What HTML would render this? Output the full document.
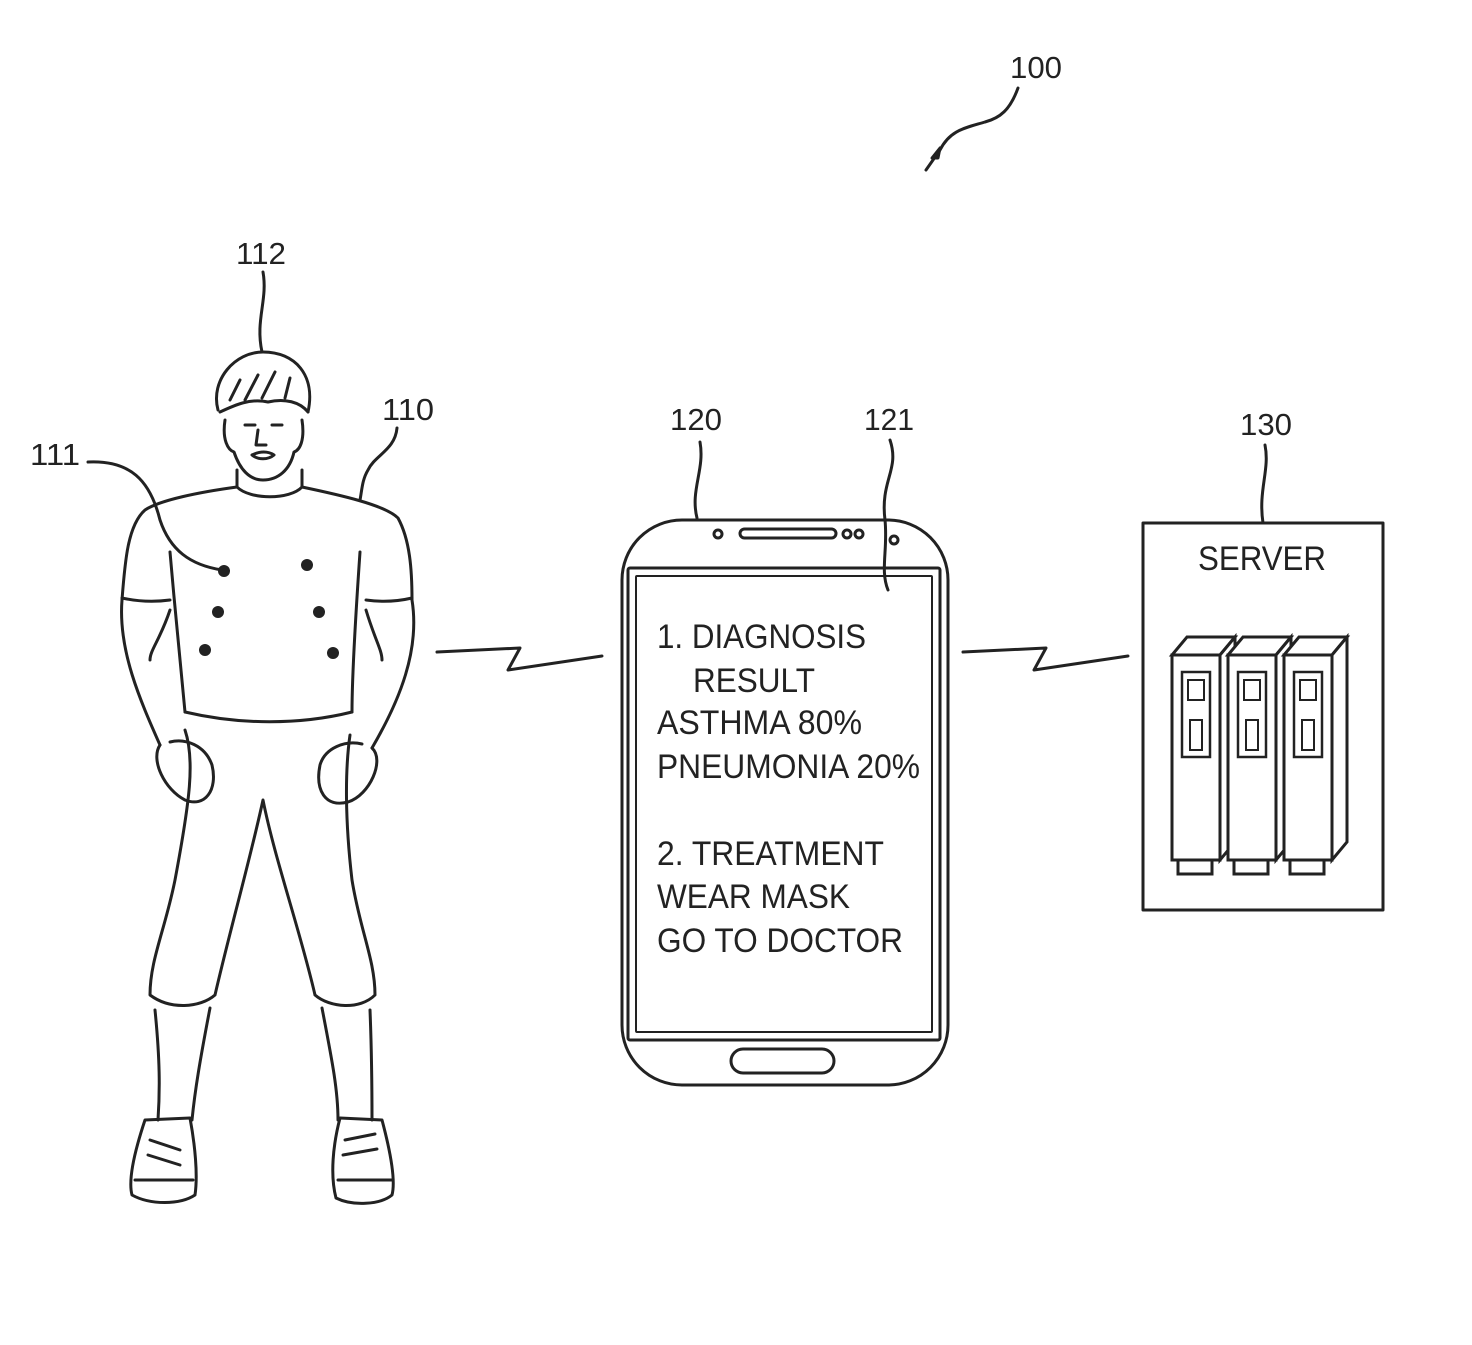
<!DOCTYPE html>
<html><head><meta charset="utf-8"><style>
html,body{margin:0;padding:0;background:#fff;}
svg{display:block;}
text{font-family:"Liberation Sans",sans-serif;fill:#222;}
</style></head><body>
<svg width="1472" height="1345" viewBox="0 0 1472 1345" xmlns="http://www.w3.org/2000/svg">
<g fill="none" stroke="#222" stroke-width="3" stroke-linecap="round" stroke-linejoin="round">
<path d="M1018 88 C1010 110 1000 118 985 122 C965 128 950 130 940 150 L926 170"/>
<path d="M932 158 l8 -10 l-2 10 z" fill="#222"/>
<path d="M263 272 C268 300 255 320 262 352"/>
<path d="M397 428 C395 450 375 455 368 470 C362 480 362 490 360 500"/>
<path d="M88 462 C130 460 150 480 160 520 C170 550 190 565 222 570"/>
<path d="M218 410 C210 380 235 352 263 352 C295 352 316 375 308 412"/>
<path d="M220 412 C235 405 250 398 268 402 C285 398 300 402 308 412"/>
<path d="M230 400 L240 380 M245 400 L258 375 M262 398 L275 372 M285 398 L290 378"/>
<path d="M225 420 C222 440 228 450 234 452 C240 470 250 480 263 480 C278 480 290 470 294 452 C300 450 305 440 302 420"/>
<path d="M245 425 h10 M272 425 h10 M258 430 l-2 15 h10 M252 455 c8 -4 16 -4 22 0 c-6 5 -16 5 -22 0"/>
<path d="M237 470 L237 487 C250 500 290 500 302 487 L302 470"/>
<path d="M237 487 C200 492 160 500 145 510 C128 525 125 560 122 600"/>
<path d="M302 487 C340 495 385 505 398 518 C410 540 412 570 412 600"/>
<path d="M122 598 C140 602 155 602 170 600 M412 598 C395 602 380 602 366 600"/>
<path d="M170 552 C175 610 182 680 185 712 M360 552 C356 610 352 680 352 712"/>
<path d="M185 712 C240 725 300 725 352 712"/>
<path d="M122 600 C118 650 140 700 160 745 M170 610 C160 640 150 650 150 660"/>
<path d="M412 600 C420 650 400 700 372 748 M366 610 C375 640 382 650 382 660"/>
<path d="M160 745 C150 760 165 790 185 800 C205 808 218 790 212 765 C205 745 185 738 170 742"/>
<path d="M372 748 C385 760 370 795 348 802 C325 808 315 790 320 765 C325 748 345 740 362 744"/>
<path d="M185 730 C195 760 190 800 175 880 C165 930 150 960 150 995 C170 1010 200 1008 215 995 C230 930 250 860 263 800 C275 860 300 930 315 995 C330 1008 360 1010 375 995 C375 960 360 930 352 880 C345 820 345 770 350 735"/>
<path d="M155 1010 C160 1060 160 1090 158 1120 M210 1008 C200 1060 195 1090 192 1120"/>
<path d="M322 1008 C332 1060 338 1090 338 1120 M370 1010 C372 1060 372 1090 372 1120"/>
<path d="M145 1120 C135 1150 128 1180 132 1195 C150 1205 180 1205 195 1195 C198 1175 195 1145 190 1118 Z"/>
<path d="M340 1118 C333 1145 330 1175 336 1198 C352 1206 380 1205 392 1195 C396 1180 390 1150 382 1120 Z"/>
<path d="M150 1140 l30 10 M148 1155 l32 10 M135 1180 h58 M345 1140 l30 -6 M343 1155 l34 -6 M338 1180 h55"/>
<path d="M437 652 L520 648 L508 670 L602 656"/>
<path d="M963 652 L1046 648 L1034 670 L1128 656"/>
<rect x="622" y="520" width="326" height="565" rx="60"/>
<rect x="628" y="568" width="312" height="472" rx="2"/>
<rect x="636" y="576" width="296" height="456" rx="1" stroke-width="2"/>
<rect x="740" y="529" width="96" height="9" rx="4.5"/>
<circle cx="718" cy="534" r="4"/><circle cx="847" cy="534" r="4"/><circle cx="859" cy="534" r="4"/><circle cx="894" cy="540" r="4"/>
<rect x="731" y="1049" width="103" height="24" rx="12"/>
<path d="M700 442 C705 470 690 490 697 518"/>
<path d="M890 440 C900 470 880 480 885 520 C888 550 880 570 888 590"/>
<rect x="1143" y="523" width="240" height="387"/>
<path d="M1265 445 C1270 470 1258 490 1263 523"/>
</g>
<g fill="#222">
<circle cx="224" cy="571" r="6"/><circle cx="307" cy="565" r="6"/><circle cx="218" cy="612" r="6"/><circle cx="319" cy="612" r="6"/><circle cx="205" cy="650" r="6"/><circle cx="333" cy="653" r="6"/>
</g>
<g fill="#fff" stroke="#222" stroke-width="3">
<g>
<path d="M1172 655 l15 -18 h48 l-15 18 z"/><path d="M1220 655 l15 -18 v205 l-15 18 z"/>
<rect x="1172" y="655" width="48" height="205"/><rect x="1178" y="860" width="34" height="14"/>
<rect x="1182" y="672" width="28" height="85" stroke-width="2.5"/><rect x="1188" y="680" width="16" height="20" stroke-width="2"/><rect x="1190" y="720" width="12" height="30" stroke-width="2"/>
</g>
<g transform="translate(56,0)">
<path d="M1172 655 l15 -18 h48 l-15 18 z"/><path d="M1220 655 l15 -18 v205 l-15 18 z"/>
<rect x="1172" y="655" width="48" height="205"/><rect x="1178" y="860" width="34" height="14"/>
<rect x="1182" y="672" width="28" height="85" stroke-width="2.5"/><rect x="1188" y="680" width="16" height="20" stroke-width="2"/><rect x="1190" y="720" width="12" height="30" stroke-width="2"/>
</g>
<g transform="translate(112,0)">
<path d="M1172 655 l15 -18 h48 l-15 18 z"/><path d="M1220 655 l15 -18 v205 l-15 18 z"/>
<rect x="1172" y="655" width="48" height="205"/><rect x="1178" y="860" width="34" height="14"/>
<rect x="1182" y="672" width="28" height="85" stroke-width="2.5"/><rect x="1188" y="680" width="16" height="20" stroke-width="2"/><rect x="1190" y="720" width="12" height="30" stroke-width="2"/>
</g>
</g>
<g font-size="31" lengthAdjust="spacingAndGlyphs">
<text x="1010" y="78" textLength="52" lengthAdjust="spacingAndGlyphs">100</text>
<text x="236" y="264" textLength="50" lengthAdjust="spacingAndGlyphs">112</text>
<text x="382" y="420" textLength="52" lengthAdjust="spacingAndGlyphs">110</text>
<text x="30" y="465" textLength="50" lengthAdjust="spacingAndGlyphs">111</text>
<text x="670" y="430" textLength="52" lengthAdjust="spacingAndGlyphs">120</text>
<text x="864" y="430" textLength="50" lengthAdjust="spacingAndGlyphs">121</text>
<text x="1240" y="435" textLength="52" lengthAdjust="spacingAndGlyphs">130</text>
</g>
<g font-size="34">
<text x="1198" y="570" textLength="128" lengthAdjust="spacingAndGlyphs">SERVER</text>
<text x="657" y="648" textLength="209" lengthAdjust="spacingAndGlyphs">1. DIAGNOSIS</text>
<text x="693" y="692" textLength="122" lengthAdjust="spacingAndGlyphs">RESULT</text>
<text x="657" y="734" textLength="205" lengthAdjust="spacingAndGlyphs">ASTHMA 80%</text>
<text x="657" y="778" textLength="263" lengthAdjust="spacingAndGlyphs">PNEUMONIA 20%</text>
<text x="657" y="865" textLength="227" lengthAdjust="spacingAndGlyphs">2. TREATMENT</text>
<text x="657" y="908" textLength="193" lengthAdjust="spacingAndGlyphs">WEAR MASK</text>
<text x="657" y="952" textLength="246" lengthAdjust="spacingAndGlyphs">GO TO DOCTOR</text>
</g>
</svg>
</body></html>
